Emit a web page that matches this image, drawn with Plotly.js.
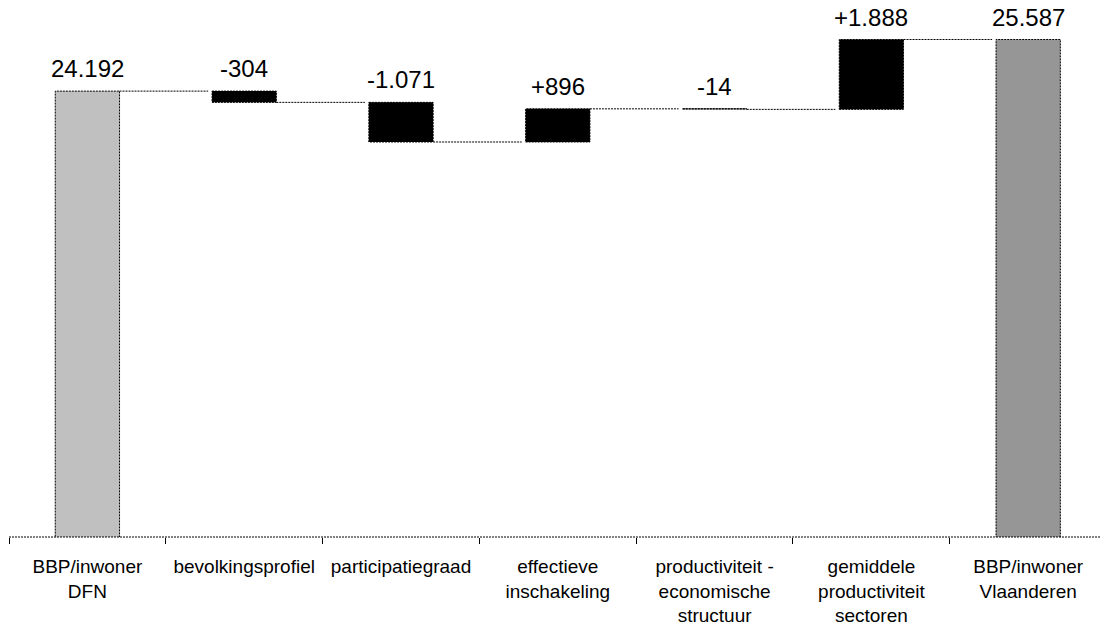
<!DOCTYPE html>
<html>
<head>
<meta charset="utf-8">
<script src="https://cdn.plot.ly/plotly-3.0.1.min.js"></script>
<style>
html, body { margin: 0; padding: 0; background: #fff; overflow: hidden; }
#chart { width: 1100px; height: 626px; }
</style>
</head>
<body>
<div id="chart"></div>
<script>
// ---- data ----
const categories = ['BBP/inwoner<br>DFN', 'bevolkingsprofiel', 'participatiegraad', 'effectieve<br>inschakeling', 'productiviteit -<br>economische<br>structuur', 'gemiddele<br>productiviteit<br>sectoren', 'BBP/inwoner<br>Vlaanderen'];
const measures = ['absolute', 'relative', 'relative', 'relative', 'relative', 'relative', 'total'];
const values = [24192, -304, -1071, 896, -14, 1888, 25587];
const valueLabels = ['24.192', '-304', '-1.071', '+896', '-14', '+1.888', '25.587'];

// ---- styling ----
const FONT = 'Liberation Sans, Arial, sans-serif';
const BAR_W = 0.41;
const DOT = '2px,1px';
const colorFor = (m) => m === 'absolute' ? '#c0c0c0' : (m === 'total' ? '#969696' : '#000000');

// ---- derive waterfall geometry from data ----
let running = 0;
const bases = [], heights = [], ends = [], colors = [];
measures.forEach((m, i) => {
  if (m === 'relative') {
    bases.push(running);
    heights.push(values[i]);
    running += values[i];
  } else {
    bases.push(0);
    heights.push(values[i]);
    running = values[i];
  }
  ends.push(running);
  colors.push(colorFor(m));
});

const traces = [];
traces.push({
  type: 'bar',
  x: categories,
  y: heights,
  base: bases,
  width: BAR_W,
  marker: { color: colors, line: { width: 0 } },
  hoverinfo: 'skip',
  showlegend: false
});

// dotted outlines around bars (on numeric overlay axis)
for (let i = 0; i < categories.length; i++) {
  const lo = bases[i], hi = bases[i] + heights[i];
  const x0 = i - BAR_W / 2, x1 = i + BAR_W / 2;
  traces.push({
    type: 'scatter', mode: 'lines', xaxis: 'x2', yaxis: 'y',
    x: [x0, x1, x1, x0, x0], y: [lo, lo, hi, hi, lo],
    line: { color: '#000', width: 1, dash: DOT },
    hoverinfo: 'skip', showlegend: false
  });
}

// dotted connectors
for (let i = 0; i < categories.length - 1; i++) {
  traces.push({
    type: 'scatter', mode: 'lines', xaxis: 'x2', yaxis: 'y',
    x: [i + BAR_W / 2, i + 1 - BAR_W / 2 - 0.025], y: [ends[i], ends[i]],
    line: { color: '#000', width: 1, dash: DOT },
    hoverinfo: 'skip', showlegend: false
  });
}

const annotations = categories.map((c, i) => ({
  x: i, xref: 'x2', y: Math.max(bases[i], bases[i] + heights[i]), yref: 'y',
  text: valueLabels[i], showarrow: false, yanchor: 'bottom', yshift: 7,
  font: { family: FONT, size: 24, color: '#000' }
}));

const XR = [-0.5, 6.458];
const layout = {
  width: 1100, height: 626,
  margin: { l: 9, r: 0, t: 0, b: 89, pad: 0 },
  paper_bgcolor: '#fff', plot_bgcolor: '#fff',
  barmode: 'overlay',
  showlegend: false,
  xaxis: {
    type: 'category', range: XR, tickson: 'boundaries',
    ticks: 'outside', ticklen: 6, tickwidth: 1, tickcolor: '#000',
    ticklabelstandoff: 16,
    showline: false, showgrid: false, zeroline: false,
    tickfont: { family: FONT, size: 19, color: '#000' },
    tickangle: 0, automargin: false
  },
  xaxis2: {
    type: 'linear', overlaying: 'x', range: XR, visible: false,
    showgrid: false, zeroline: false
  },
  yaxis: {
    range: [12140, 26655], visible: false, showgrid: false, zeroline: false,
    fixedrange: true
  },
  shapes: [{
    type: 'line', xref: 'paper', yref: 'paper', x0: 0, x1: 1, y0: 0, y1: 0,
    line: { color: '#000', width: 1, dash: DOT }, layer: 'above'
  }],
  annotations: annotations
};

Plotly.newPlot('chart', traces, layout, { staticPlot: true, displayModeBar: false });
</script>
</body>
</html>
